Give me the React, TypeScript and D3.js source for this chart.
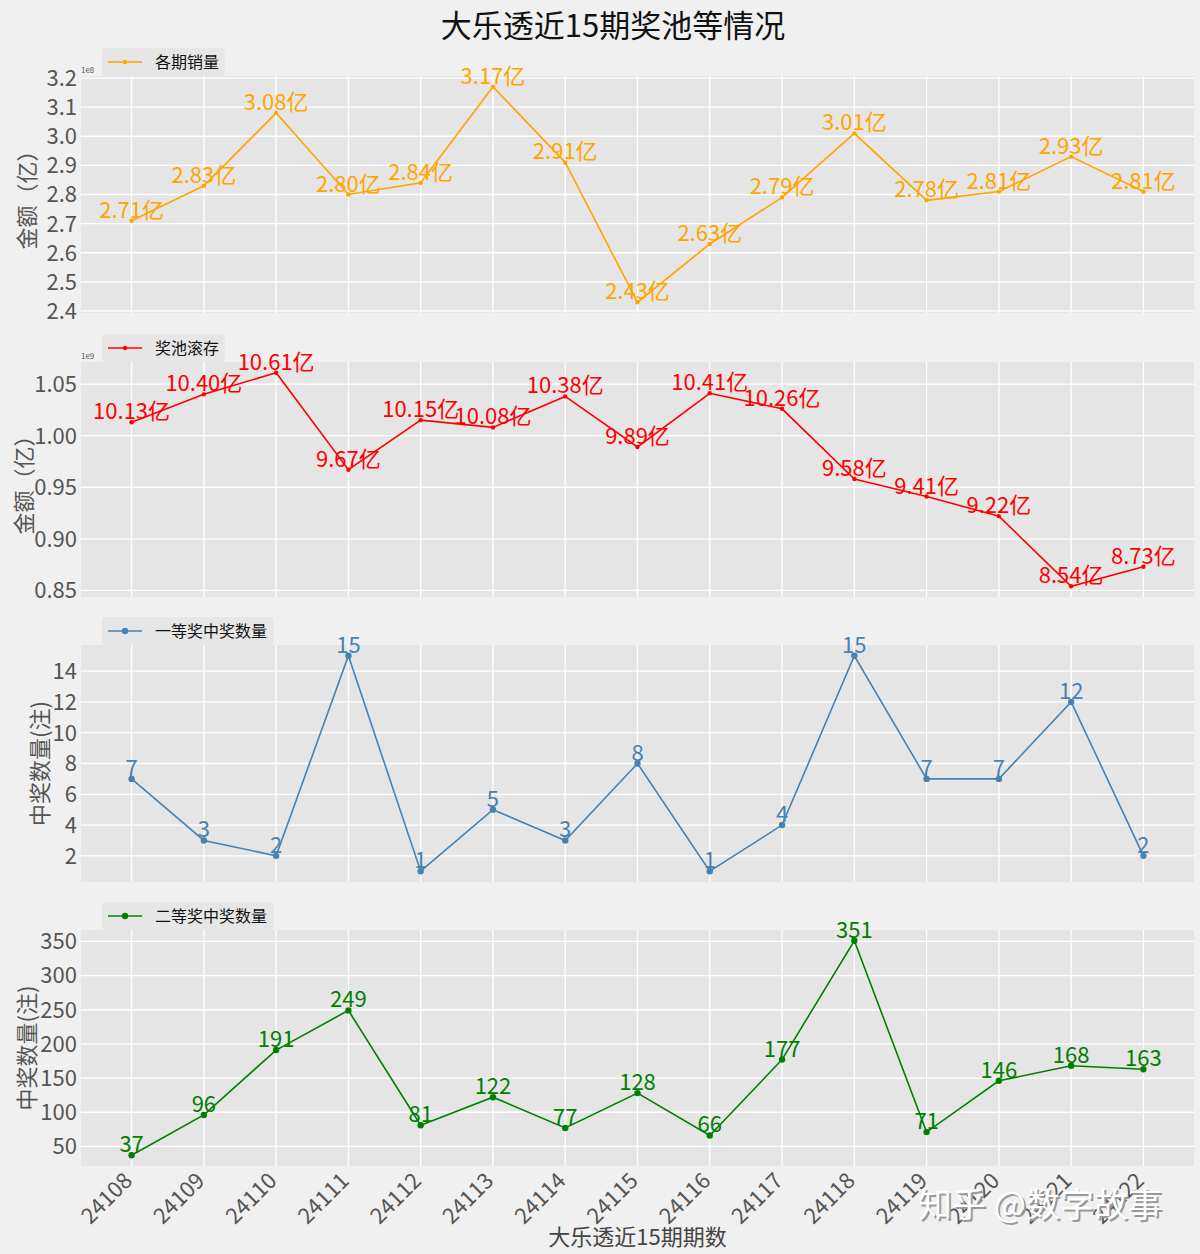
import React from 'react';
import * as d3 from 'd3';

const periods = ['24108','24109','24110','24111','24112','24113','24114','24115','24116','24117','24118','24119','24120','24121','24122'];
const sales = [2.71, 2.83, 3.08, 2.80, 2.84, 3.17, 2.91, 2.43, 2.63, 2.79, 3.01, 2.78, 2.81, 2.93, 2.81]; // 亿
const pool = [10.13, 10.40, 10.61, 9.67, 10.15, 10.08, 10.38, 9.89, 10.41, 10.26, 9.58, 9.41, 9.22, 8.54, 8.73]; // 亿
const first = [7, 3, 2, 15, 1, 5, 3, 8, 1, 4, 15, 7, 7, 12, 2];
const second = [37, 96, 191, 249, 81, 122, 77, 128, 66, 177, 351, 71, 146, 168, 163];

const W = 1200, H = 1254;
const LEFT = 81, RIGHT = 1194;
const FONT = '"Noto Sans CJK SC", "Noto Sans", sans-serif';

type Panel = {
  values: number[];
  labels: string[];
  color: string;
  legend: string;
  ylabel: string;
  ylabelX: number;
  offset: string | null;
  top: number; bottom: number;
  tickCount: number;
  tickFmt: (v: number) => string;
  marker: number;
};

const panels: Panel[] = [
  { values: sales, labels: sales.map(v => v.toFixed(2) + '亿'), color: '#FFA500', legend: '各期销量', ylabel: '金额（亿）', ylabelX: 27, offset: '1e8', top: 76, bottom: 313, tickCount: 8, tickFmt: d3.format('.1f'), marker: 2.2 },
  { values: pool.map(v => v / 10), labels: pool.map(v => v.toFixed(2) + '亿'), color: '#FF0000', legend: '奖池滚存', ylabel: '金额（亿）', ylabelX: 24, offset: '1e9', top: 362, bottom: 597, tickCount: 5, tickFmt: d3.format('.2f'), marker: 2.2 },
  { values: first, labels: first.map(v => String(v)), color: '#4682B4', legend: '一等奖中奖数量', ylabel: '中奖数量(注)', ylabelX: 40, offset: null, top: 645, bottom: 882, tickCount: 8, tickFmt: d3.format('d'), marker: 3.2 },
  { values: second, labels: second.map(v => String(v)), color: '#008000', legend: '二等奖中奖数量', ylabel: '中奖数量(注)', ylabelX: 27, offset: null, top: 930, bottom: 1166, tickCount: 7, tickFmt: d3.format('d'), marker: 3.2 },
];

const x = d3.scaleLinear().domain([-0.7, periods.length - 1 + 0.7]).range([LEFT, RIGHT]);

function PanelView({ p }: { p: Panel }) {
  const [mn, mx] = d3.extent(p.values) as [number, number];
  const m = (mx - mn) * 0.05;
  const y = d3.scaleLinear().domain([mn - m, mx + m]).range([p.bottom, p.top]);
  const ticks = y.ticks(p.tickCount);
  const line = d3.line<number>().x((_, i) => x(i)).y(v => y(v));
  const legendW = 58 + p.legend.length * 16.2;
  const cy = (p.top + p.bottom) / 2;
  return (
    <g>
      <rect x={LEFT} y={p.top} width={RIGHT - LEFT} height={p.bottom - p.top} fill="#E5E5E5" />
      {ticks.map(t => (
        <line key={'h' + t} x1={LEFT} x2={RIGHT} y1={y(t)} y2={y(t)} stroke="#fff" strokeWidth={1.3} />
      ))}
      {periods.map((_, i) => (
        <line key={'v' + i} x1={x(i)} x2={x(i)} y1={p.top} y2={p.bottom} stroke="#fff" strokeWidth={1.3} />
      ))}
      {ticks.map(t => (
        <text key={'t' + t} x={LEFT - 4} y={y(t)} dy="0.36em" textAnchor="end" fontSize={22} fill="#555" fontFamily={FONT}>{p.tickFmt(t)}</text>
      ))}
      {p.offset && (
        <text x={LEFT} y={p.top - 3} fontSize={8} fill="#555" fontFamily={FONT}>{p.offset}</text>
      )}
      <text transform={`translate(${p.ylabelX},${cy}) rotate(-90)`} textAnchor="middle" dy="0.36em" fontSize={22} fill="#555" fontFamily={FONT}>{p.ylabel}</text>
      <path d={line(p.values) || ''} fill="none" stroke={p.color} strokeWidth={1.6} />
      {p.values.map((v, i) => (
        <circle key={'c' + i} cx={x(i)} cy={y(v)} r={p.marker} fill={p.color} />
      ))}
      {p.values.map((v, i) => (
        <text key={'l' + i} x={x(i)} y={y(v) - 3} textAnchor="middle" fontSize={22} fill={p.color} fontFamily={FONT}>{p.labels[i]}</text>
      ))}
      <rect x={102} y={p.top - 28} width={legendW} height={28} rx={4} fill="#E6E6E6" />
      <line x1={108} x2={142} y1={p.top - 14} y2={p.top - 14} stroke={p.color} strokeWidth={1.6} />
      <circle cx={125} cy={p.top - 14} r={p.marker} fill={p.color} />
      <text x={155} y={p.top - 14} dy="0.36em" fontSize={16} fill="#111" fontFamily={FONT}>{p.legend}</text>
    </g>
  );
}

export default function App() {
  const last = panels[panels.length - 1];
  return (
    <svg width={W} height={H} style={{ display: 'block', position: 'absolute', left: 0, top: 0 }}>
      <rect width={W} height={H} fill="#F0F0F0" />
      <text x={613} y={37} textAnchor="middle" fontSize={31} fill="#111" fontFamily={FONT}>大乐透近15期奖池等情况</text>
      {panels.map((p, i) => <PanelView key={i} p={p} />)}
      {periods.map((d, i) => (
        <text key={'x' + i} transform={`translate(${x(i) + 2},${last.bottom + 16}) rotate(-45)`} textAnchor="end" fontSize={22} fill="#555" fontFamily={FONT}>{d}</text>
      ))}
      <text x={(LEFT + RIGHT) / 2} y={1245} textAnchor="middle" fontSize={22} fill="#444" fontFamily={FONT}>大乐透近15期期数</text>
      <text x={1042} y={1219} textAnchor="middle" fontSize={34} fill="#9a9a9a" fontFamily={FONT}>知乎 @数字故事</text>
      <text x={1040} y={1217} textAnchor="middle" fontSize={34} fill="#ffffff" fontFamily={FONT}>知乎 @数字故事</text>
    </svg>
  );
}
